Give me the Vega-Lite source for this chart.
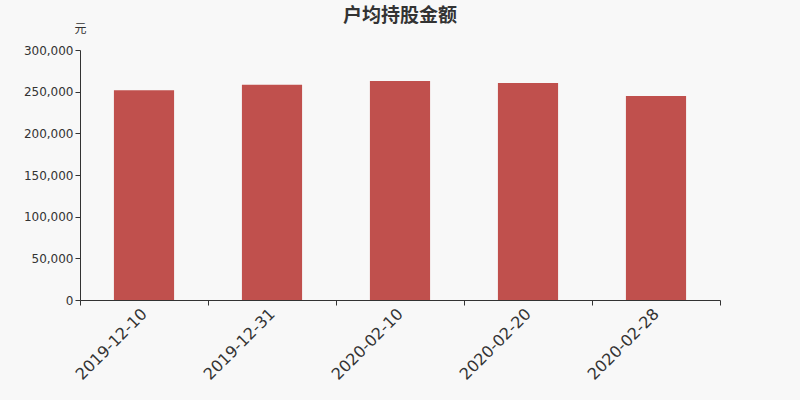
{
  "$schema": "https://vega.github.io/schema/vega-lite/v6.json",
  "autosize": "none",
  "width": 640,
  "height": 250,
  "padding": {"left": 80, "top": 50, "right": 80, "bottom": 100},
  "background": "#f8f8f8",
  "title": {
    "text": "户均持股金额",
    "anchor": "middle",
    "frame": "group",
    "fontSize": 19,
    "fontWeight": "bold",
    "color": "#333333",
    "font": "Noto Sans CJK SC",
    "offset": -4
  },
  "data": {
    "values": [
      {"date": "2019-12-10", "value": 251800},
      {"date": "2019-12-31", "value": 258400},
      {"date": "2020-02-10", "value": 262800},
      {"date": "2020-02-20", "value": 260400},
      {"date": "2020-02-28", "value": 244800}
    ]
  },
  "mark": {"type": "bar", "color": "#c0504d", "width": {"band": 0.47}},
  "encoding": {
    "x": {
      "field": "date",
      "type": "nominal",
      "sort": null,
      "scale": {"padding": 0},
      "axis": {
        "title": null,
        "labelAngle": -45,
        "labelAlign": "right",
        "labelBaseline": "middle",
        "labelFontSize": 16,
        "labelColor": "#333333",
        "labelFont": "DejaVu Sans",
        "tickBand": "extent",
        "tickSize": 5,
        "domainColor": "#333333",
        "tickColor": "#333333",
        "labelPadding": 6
      }
    },
    "y": {
      "field": "value",
      "type": "quantitative",
      "scale": {"domain": [0, 300000], "nice": false},
      "axis": {
        "title": "元",
        "titleAngle": 0,
        "titleX": 0,
        "titleY": -22,
        "titleAlign": "center",
        "titleBaseline": "middle",
        "titleFontSize": 12,
        "titleFontWeight": "normal",
        "titleColor": "#333333",
        "titleFont": "Noto Sans CJK SC",
        "values": [0, 50000, 100000, 150000, 200000, 250000, 300000],
        "format": ",d",
        "grid": false,
        "labelFontSize": 12,
        "labelColor": "#333333",
        "labelFont": "DejaVu Sans",
        "tickSize": 5,
        "domainColor": "#333333",
        "tickColor": "#333333"
      }
    }
  },
  "config": {"view": {"stroke": null}}
}
